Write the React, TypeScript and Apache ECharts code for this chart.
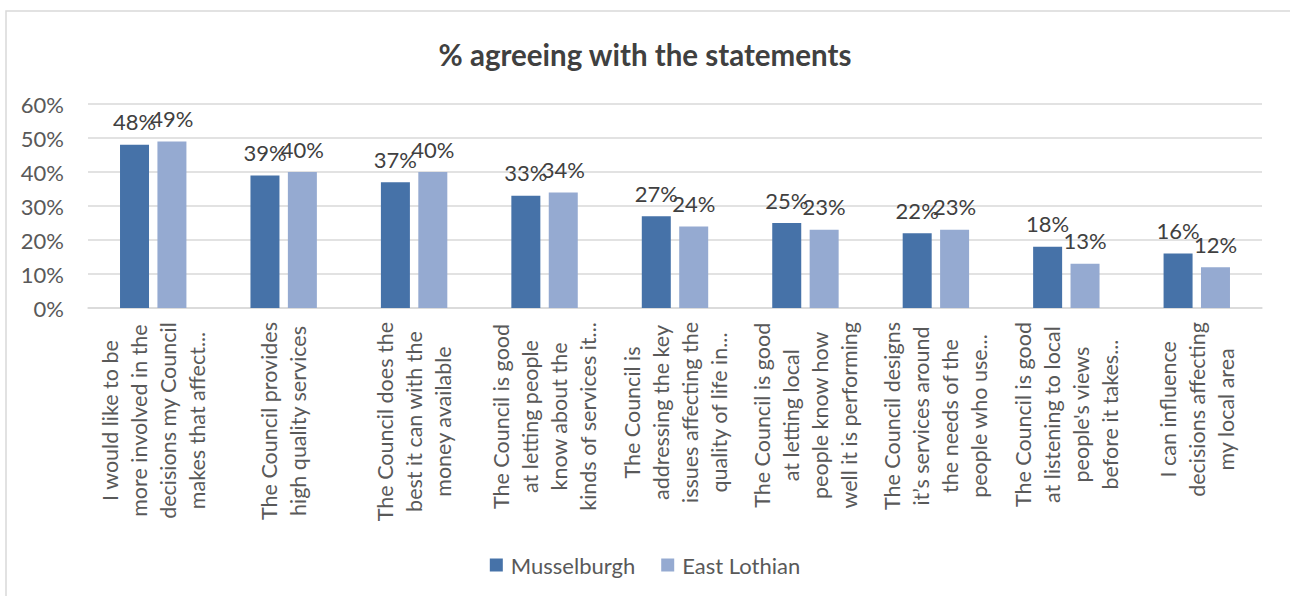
import React, { useEffect, useRef } from "react";
import * as echarts from "echarts";

const categories: string[] = [
  "I would like to be\nmore involved in the\ndecisions my Council\nmakes that affect...",
  "The Council provides\nhigh quality services",
  "The Council does the\nbest it can with the\nmoney available",
  "The Council is good\nat letting people\nknow about the\nkinds of services it...",
  "The Council is\naddressing the key\nissues affecting the\nquality of life in...",
  "The Council is good\nat letting local\npeople know how\nwell it is performing",
  "The Council designs\nit’s services around\nthe needs of the\npeople who use...",
  "The Council is good\nat listening to local\npeople's views\nbefore it takes...",
  "I can influence\ndecisions affecting\nmy local area",
];
const musselburgh: number[] = [48, 39, 37, 33, 27, 25, 22, 18, 16];
const eastLothian: number[] = [49, 40, 40, 34, 24, 23, 23, 13, 12];
const seriesNames: string[] = ["Musselburgh", "East Lothian"];
const titleText = "% agreeing with the statements";

const FONT = "Lato, 'Open Sans', sans-serif";

export default function App() {
  const ref = useRef<HTMLDivElement>(null);
  useEffect(() => {
    if (!ref.current) return;
    const chart = echarts.init(ref.current, undefined, { renderer: "svg" });
    const labelStyle = {
      show: true,
      position: "top" as const,
      distance: 12,
      formatter: "{c}%",
      color: "#404040",
      fontSize: 22,
      fontFamily: FONT,
    };
    chart.setOption({
      animation: false,
      backgroundColor: "#ffffff",
      textStyle: { fontFamily: FONT },
      graphic: [
        {
          type: "rect",
          shape: { x: 6, y: 11, width: 1310, height: 620 },
          style: { fill: "none", stroke: "#d9d9d9", lineWidth: 1.5 },
          silent: true,
          z: -10,
        },
      ],
      title: {
        text: titleText,
        left: "center",
        top: 34,
        textStyle: {
          fontFamily: FONT,
          fontSize: 29.5,
          fontWeight: "bold",
          color: "#404040",
        },
      },
      legend: {
        bottom: 15,
        left: "center",
        icon: "rect",
        itemWidth: 13,
        itemHeight: 13,
        itemGap: 26,
        textStyle: {
          fontFamily: FONT,
          fontSize: 22,
          color: "#595959",
          padding: [0, 0, 0, 3],
        },
        data: seriesNames,
      },
      grid: {
        left: 88,
        right: 28,
        top: 104,
        bottom: 288,
        containLabel: false,
        outerBoundsMode: "none",
      },
      xAxis: {
        type: "category",
        data: categories,
        axisLine: { lineStyle: { color: "#d9d9d9", width: 1.5 } },
        axisTick: { show: false },
        axisLabel: {
          interval: 0,
          rotate: 90,
          margin: 14,
          color: "#595959",
          fontFamily: FONT,
          fontSize: 21.5,
          lineHeight: 29,
          formatter: (v: string) =>
            v
              .split("\n")
              .map((l) => "{c|" + l + "}")
              .join("\n"),
          rich: {
            c: {
              align: "center",
              fontFamily: FONT,
              fontSize: 21.5,
              lineHeight: 29,
              color: "#595959",
            },
          },
        },
      },
      yAxis: {
        type: "value",
        min: 0,
        max: 60,
        interval: 10,
        axisLine: { show: false },
        axisTick: { show: false },
        splitLine: { lineStyle: { color: "#d9d9d9", width: 1.5 } },
        axisLabel: {
          formatter: "{value}%",
          color: "#595959",
          fontFamily: FONT,
          fontSize: 22,
          margin: 24,
        },
      },
      series: [
        {
          name: seriesNames[0],
          type: "bar",
          data: musselburgh,
          barWidth: 29,
          barGap: "29%",
          itemStyle: { color: "#4672a8" },
          label: labelStyle,
        },
        {
          name: seriesNames[1],
          type: "bar",
          data: eastLothian,
          barWidth: 29,
          itemStyle: { color: "#95aad1" },
          label: labelStyle,
        },
      ],
    });
    return () => chart.dispose();
  }, []);
  return (
    <div
      ref={ref}
      style={{ position: "fixed", left: 0, top: 0, width: 1290, height: 596 }}
    />
  );
}
